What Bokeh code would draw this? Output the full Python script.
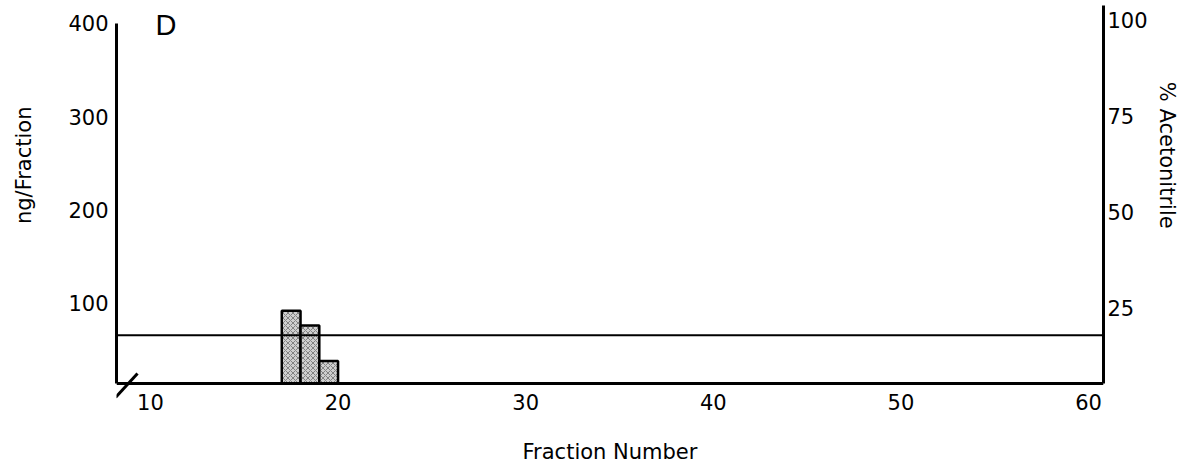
from bokeh.plotting import figure
from bokeh.models import Range1d, LinearAxis, FixedTicker, Span, Label
from bokeh.embed import file_html
from bokeh.resources import INLINE

# ---- data ----
fractions = [17, 18, 19]
ng_per_fraction = [92, 76, 38]
acetonitrile_pct = 18
x_ticks = [10, 20, 30, 40, 50, 60]
left_ticks = [100, 200, 300, 400]
right_ticks = [25, 50, 75, 100]

# ---- ranges (the axes are broken at the lower left) ----
X_START, X_END = 8.19, 60.8
Y_START, Y_END = -2.14, 419.1
Y_BASE = 13.9            # value at which the broken baseline sits
ACN_START, ACN_END = 1.56, 103.9
ACN_BASE = 5.47

FONT = "DejaVu Sans"
W, H = 1182, 470
BL, BR, BT, BB = 116, 79, 5, 72
NB = "\u00a0"  # padding to move the axis titles off-centre as in the original

p = figure(width=W, height=H, output_backend="svg", toolbar_location=None,
           x_range=Range1d(X_START, X_END), y_range=Range1d(Y_START, Y_END),
           min_border_left=BL, min_border_right=BR, min_border_top=BT,
           min_border_bottom=BB, x_axis_location=None, y_axis_location=None)
p.extra_y_ranges = {"acn": Range1d(ACN_START, ACN_END)}
p.outline_line_color = None
p.xgrid.visible = False
p.ygrid.visible = False
p.background_fill_color = "white"
p.border_fill_color = "white"


def style(ax, ticks):
    ax.ticker = FixedTicker(ticks=ticks)
    ax.axis_line_width = 3
    ax.axis_line_color = "black"
    ax.major_tick_out = 0
    ax.major_tick_in = 0
    ax.minor_tick_out = 0
    ax.minor_tick_in = 0
    ax.major_label_text_font = FONT
    ax.major_label_text_font_size = "21px"
    ax.major_label_text_color = "black"
    ax.axis_label_text_font = FONT
    ax.axis_label_text_font_size = "21px"
    ax.axis_label_text_font_style = "normal"
    ax.axis_label_text_color = "black"


xaxis = LinearAxis(axis_label="Fraction Number")
style(xaxis, x_ticks)
xaxis.axis_line_color = None      # baseline drawn at the break value below
xaxis.major_label_standoff = -5
xaxis.axis_label_standoff = 27
p.add_layout(xaxis, "below")

yaxis = LinearAxis(axis_label=NB * 11 + "ng/Fraction", bounds=(Y_BASE, 400))
style(yaxis, left_ticks)
yaxis.major_label_standoff = 8
yaxis.axis_label_standoff = 29
p.add_layout(yaxis, "left")

raxis = LinearAxis(y_range_name="acn", axis_label="% Acetonitrile" + NB * 14,
                   bounds=(ACN_BASE, ACN_END))
style(raxis, right_ticks)
raxis.major_label_standoff = 4
raxis.axis_label_standoff = 4
p.add_layout(raxis, "right")

# x baseline (at the axis break value)
p.add_layout(Span(location=Y_BASE, dimension="width", line_color="black",
                  line_width=3))

# bars
p.quad(left=fractions, right=[f + 1 for f in fractions], bottom=Y_BASE,
       top=ng_per_fraction, fill_color="#cfcfcf", line_color="black",
       line_width=2.5, hatch_pattern="x", hatch_scale=5,
       hatch_color="#4d4d4d", hatch_weight=0.6)

# acetonitrile gradient
p.add_layout(Span(location=acetonitrile_pct, dimension="width", y_range_name="acn",
                  line_color="black", line_width=2))

# axis break mark (pixel scales derived from the layout)
px_x = (W - BL - BR) / (X_END - X_START)
px_y = (H - BT - BB) / (Y_END - Y_START)
p.segment(x0=[X_START - 1 / px_x], y0=[Y_BASE - 14 / px_y],
          x1=[X_START + 21 / px_x], y1=[Y_BASE + 10 / px_y],
          line_color="black", line_width=3)

# panel letter
p.add_layout(Label(x=10.27, y=415, text="D", text_font="Liberation Sans",
                   text_font_size="29px", text_baseline="top",
                   text_color="black"))

open("out.html", "w").write(file_html(p, INLINE))
